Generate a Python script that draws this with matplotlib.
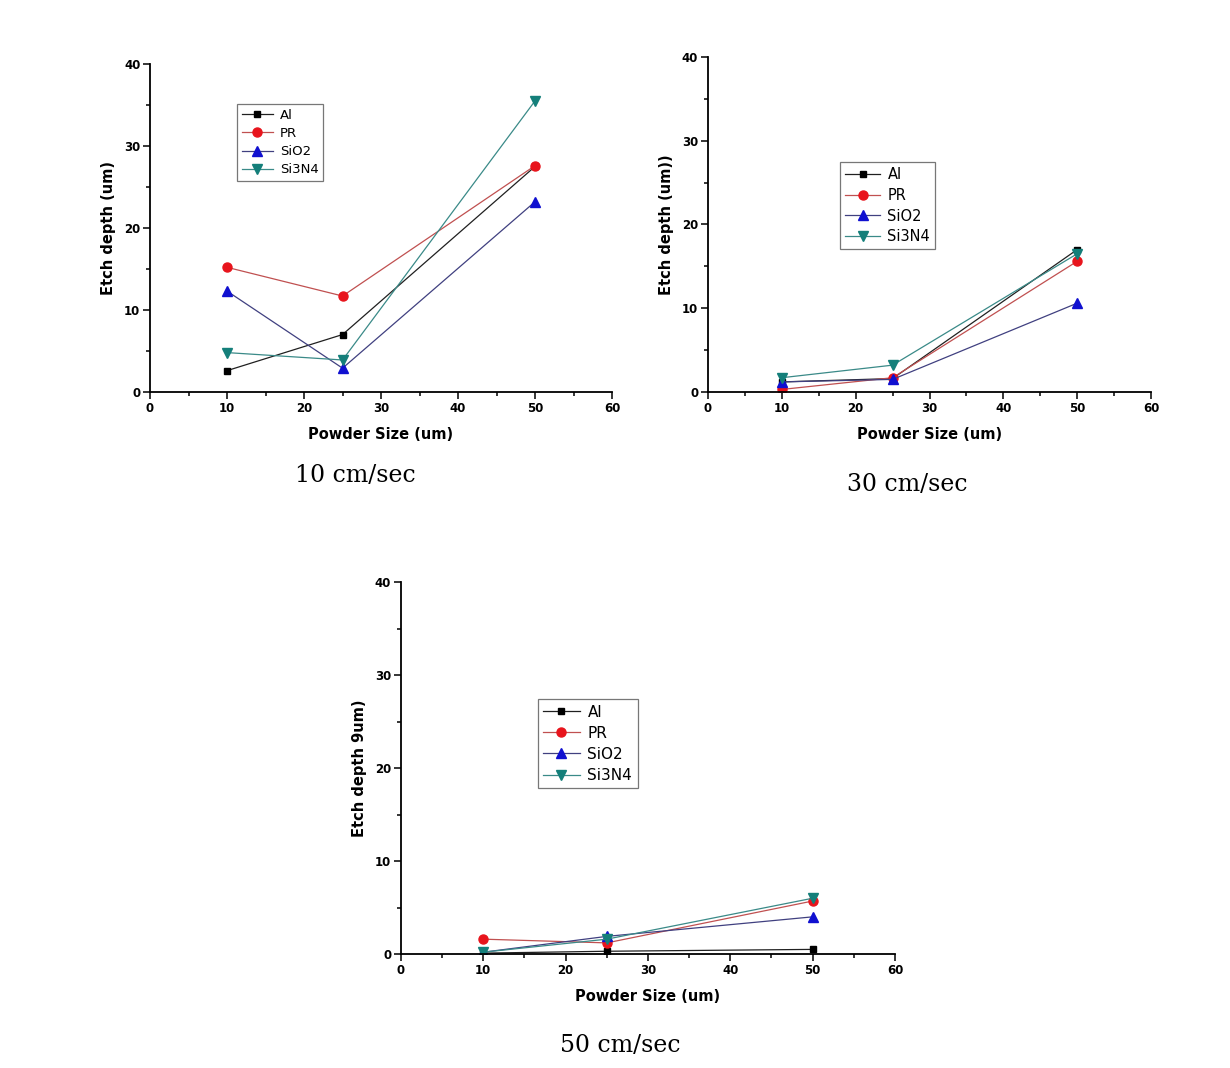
import numpy as np
import matplotlib.pyplot as plt
from matplotlib.ticker import MultipleLocator

# powder sizes (um)
sizes = [10, 25, 50]
materials = ['Al', 'PR', 'SiO2', 'Si3N4']

# etch depth at 10 cm/sec
d10_al = [2.6, 7.0, 27.5]
d10_pr = [15.2, 11.7, 27.6]
d10_sio2 = [12.3, 2.9, 23.2]
d10_si3n4 = [4.8, 3.9, 35.5]

# etch depth at 30 cm/sec
d30_al = [1.2, 1.6, 17.0]
d30_pr = [0.3, 1.7, 15.6]
d30_sio2 = [1.2, 1.5, 10.6]
d30_si3n4 = [1.7, 3.2, 16.5]

# etch depth at 50 cm/sec
d50_al = [0.1, 0.3, 0.5]
d50_pr = [1.6, 1.2, 5.7]
d50_sio2 = [0.2, 1.9, 4.0]
d50_si3n4 = [0.2, 1.6, 6.0]

ylabels = ['Etch depth (um)', 'Etch depth (um))', 'Etch depth 9um)']
captions = ['10 cm/sec', '30 cm/sec', '50 cm/sec']

markers = ['s', 'o', '^', 'v']
mcolors = ['black', '#e8141c', '#1010d0', '#147f7a']
lcolors = ['#202020', '#c05050', '#404080', '#3a8a88']
msizes = [5, 6.5, 7, 7]

fig = plt.figure(figsize=(12.3, 10.68), dpi=100)
ax1 = fig.add_axes([0.122, 0.633, 0.3756, 0.3071])
ax2 = fig.add_axes([0.5756, 0.633, 0.3602, 0.3137])
ax3 = fig.add_axes([0.326, 0.1067, 0.4016, 0.3483])

sets = [
    (ax1, [d10_al, d10_pr, d10_sio2, d10_si3n4], (0.188, 0.878), 9.5),
    (ax2, [d30_al, d30_pr, d30_sio2, d30_si3n4], (0.298, 0.687), 10.5),
    (ax3, [d50_al, d50_pr, d50_sio2, d50_si3n4], (0.277, 0.685), 11),
]

for i, (ax, series, legpos, lfs) in enumerate(sets):
    for j, ys in enumerate(series):
        ax.plot(sizes, ys, color=lcolors[j], lw=0.9, marker=markers[j],
                markersize=msizes[j], markerfacecolor=mcolors[j],
                markeredgecolor=mcolors[j], label=materials[j])

    #Muestra solo los ejes izquierdo e inferior.
    ax.spines['right'].set_color('none')
    ax.spines['top'].set_color('none')
    ax.spines['left'].set_linewidth(1.3)
    ax.spines['bottom'].set_linewidth(1.3)
    ax.set_xlim(0, 60)
    ax.set_ylim(0, 40)
    ax.xaxis.set_major_locator(MultipleLocator(10))
    ax.xaxis.set_minor_locator(MultipleLocator(5))
    ax.yaxis.set_major_locator(MultipleLocator(10))
    ax.yaxis.set_minor_locator(MultipleLocator(5))
    ax.tick_params(which='major', direction='out', length=5, width=1.1,
                   labelsize=8.5, pad=2)
    ax.tick_params(which='minor', direction='out', length=3, width=1.1)
    for lab in ax.get_xticklabels() + ax.get_yticklabels():
        lab.set_fontweight('bold')
    ax.set_xlabel('Powder Size (um)', fontsize=10.5, fontweight='bold', labelpad=9)
    ax.set_ylabel(ylabels[i], fontsize=10.5, fontweight='bold', labelpad=6)

    leg = ax.legend(loc='upper left', bbox_to_anchor=legpos, borderaxespad=0,
                    fontsize=lfs, fancybox=False, frameon=True,
                    handlelength=2.4, handletextpad=0.5, borderpad=0.35,
                    labelspacing=0.4)
    leg.get_frame().set_edgecolor('#555555')
    leg.get_frame().set_linewidth(0.9)

fig.text(355/1230, 1 - 475/1068, captions[0], family='DejaVu Serif',
         fontsize=17, ha='center', va='center')
fig.text(907/1230, 1 - 485/1068, captions[1], family='DejaVu Serif',
         fontsize=17, ha='center', va='center')
fig.text(620/1230, 1 - 1045/1068, captions[2], family='DejaVu Serif',
         fontsize=17, ha='center', va='center')

fig.savefig('out.png', dpi=100)
